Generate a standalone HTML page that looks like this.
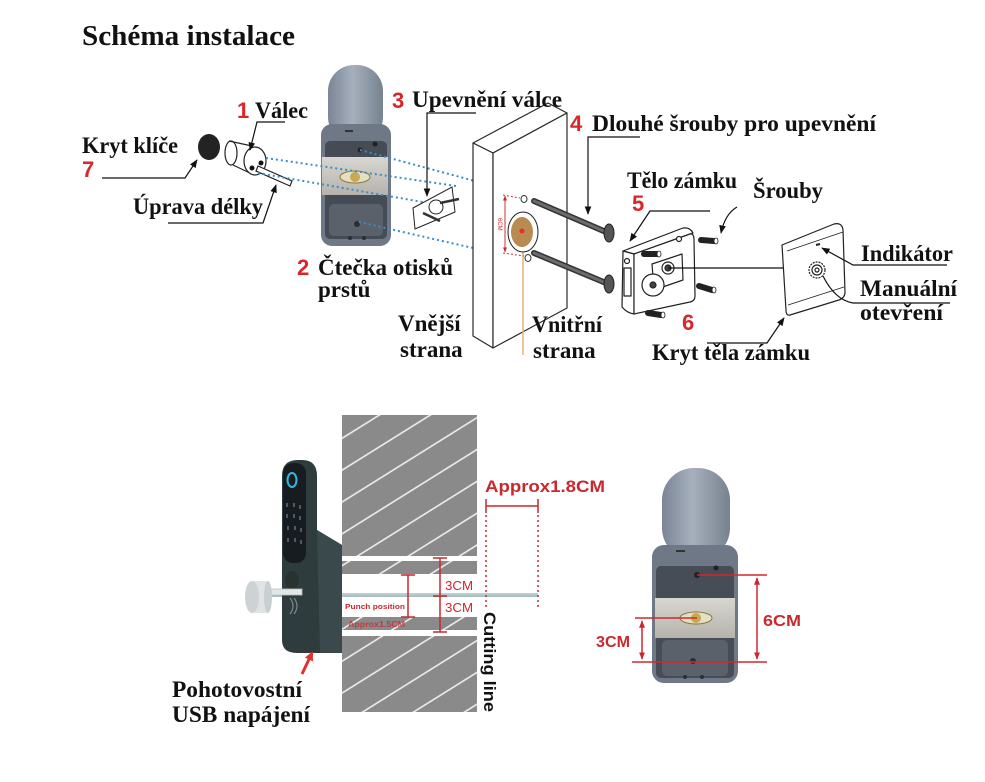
<!DOCTYPE html>
<html><head><meta charset="utf-8"><style>
html,body{margin:0;padding:0;background:#fff;}
svg{display:block}
.l{font-family:"Liberation Serif",serif;font-weight:bold;font-size:23px;fill:#111}
.n{font-family:"Liberation Sans",sans-serif;font-weight:bold;font-size:22px;fill:#d9262c}
.r{font-family:"Liberation Sans",sans-serif;fill:#c9282d}
</style></head><body>
<svg width="985" height="782" viewBox="0 0 985 782" xmlns="http://www.w3.org/2000/svg">
<defs>
<marker id="ar" viewBox="0 0 10 10" refX="9" refY="5" markerWidth="7" markerHeight="7" orient="auto"><path d="M0,1 L10,5 L0,9 z" fill="#111"/></marker>
<marker id="rr" viewBox="0 0 10 10" refX="9" refY="5" markerWidth="5" markerHeight="5" orient="auto-start-reverse"><path d="M0,1 L10,5 L0,9 z" fill="#c9282d"/></marker>
<marker id="ra" viewBox="0 0 10 10" refX="8" refY="5" markerWidth="3" markerHeight="3" orient="auto"><path d="M0,0 L10,5 L0,10 z" fill="#e03030"/></marker>
<pattern id="hatch" width="40" height="27" patternUnits="userSpaceOnUse" patternTransform="rotate(-32)"><rect width="40" height="27" fill="#8a8a8a"/><line x1="0" y1="13" x2="40" y2="13" stroke="#f4f4f4" stroke-width="1.6"/></pattern>
<linearGradient id="cap" x1="0" y1="0" x2="1" y2="0"><stop offset="0" stop-color="#7a8596"/><stop offset="0.45" stop-color="#a6b0bd"/><stop offset="1" stop-color="#77828f"/></linearGradient>
<linearGradient id="plate" x1="0" y1="0" x2="0" y2="1"><stop offset="0" stop-color="#d8d6d0"/><stop offset="1" stop-color="#b5b3ac"/></linearGradient>
</defs>

<rect width="985" height="782" fill="#fff"/>

<!-- Title -->
<text x="82" y="45" class="l" style="font-size:28px" textLength="213" lengthAdjust="spacingAndGlyphs">Schéma instalace</text>

<!-- key cap -->
<ellipse cx="209" cy="147" rx="11" ry="13" fill="#232323"/>
<!-- cylinder -->
<g stroke="#222" stroke-width="1.2" fill="#fff">
<path d="M229,142 L252,147 L258,175 L232,165 Z" stroke="none"/>
<ellipse cx="231" cy="153" rx="6" ry="12"/>
<line x1="229" y1="141" x2="252" y2="146"/>
<line x1="233" y1="165" x2="254" y2="175"/>
<ellipse cx="255" cy="161" rx="11" ry="14"/>
<path d="M258,166 L292,181 L290,186 L256,171 Z"/>
</g>
<circle cx="252" cy="168" r="2.5" fill="#111"/>
<circle cx="261" cy="163" r="2.5" fill="#111"/>

<!-- top reader device -->
<rect x="328" y="65" width="55" height="78" rx="26" fill="url(#cap)"/>
<rect x="321" y="124" width="70" height="122" rx="11" fill="#6e7887"/>
<rect x="325" y="141" width="62" height="98" rx="5" fill="#464c55"/>
<rect x="329" y="204" width="54" height="32" rx="5" fill="#5a616b"/>
<rect x="322" y="157" width="66" height="38" fill="url(#plate)"/>
<ellipse cx="355" cy="177" rx="15" ry="6" fill="#e6dfc4" stroke="#8a7a40" stroke-width="1"/>
<circle cx="355" cy="177" r="5" fill="#c8a850"/>
<circle cx="360" cy="150" r="2.5" fill="#222"/><circle cx="375" cy="144" r="2.5" fill="#222"/>
<circle cx="357" cy="224" r="3" fill="#2a2e33"/>
<circle cx="350" cy="238" r="2" fill="#2a2e33"/><circle cx="364" cy="238" r="2" fill="#2a2e33"/>
<rect x="345" y="130" width="8" height="2" fill="#333"/>

<!-- blue dotted lines -->
<g stroke="#3b8ec6" stroke-width="2" stroke-dasharray="2 3" fill="none">
<line x1="266" y1="158" x2="456" y2="186"/>
<line x1="258" y1="173" x2="428" y2="203"/>
<line x1="360" y1="150" x2="523" y2="194"/>
<line x1="359" y1="222" x2="530" y2="261"/>
</g>

<!-- mount plate 3 -->
<g stroke="#222" stroke-width="1" fill="#fff">
<polygon points="413,208 452,187 455,212 415,229"/>
<circle cx="436" cy="207" r="7"/>
<line x1="423" y1="213" x2="440" y2="221" stroke-width="2.5" stroke="#333"/>
<line x1="440" y1="203" x2="459" y2="199" stroke-width="2.5" stroke="#333"/>
</g>

<!-- slab -->
<g stroke="#2a2a2a" stroke-width="1.2" fill="#fff" stroke-linejoin="round">
<polygon points="473,143 548,103 567,113 493,153"/>
<polygon points="473,143 493,153 493,348 473,336"/>
<polygon points="493,153 567,113 567,308 493,348"/>
</g>
<line x1="523" y1="236" x2="523" y2="355" stroke="#e6b07a" stroke-width="1.5"/>
<ellipse cx="523" cy="232" rx="15" ry="20" fill="#fff" stroke="#222" stroke-width="1"/>
<ellipse cx="522" cy="232" rx="11" ry="15" fill="#b98b50"/>
<circle cx="522" cy="231" r="2.5" fill="#e43030"/>
<ellipse cx="524" cy="199" rx="3" ry="3.5" fill="#fff" stroke="#333"/>
<ellipse cx="528" cy="258" rx="3" ry="3.5" fill="#fff" stroke="#333"/>
<g stroke="#d03030" stroke-width="1">
<line x1="505" y1="196" x2="505" y2="252" marker-start="url(#rr)" marker-end="url(#rr)"/>
<line x1="503" y1="195" x2="520" y2="198" stroke-dasharray="2 2"/>
<line x1="503" y1="253" x2="524" y2="256" stroke-dasharray="2 2"/>
</g>
<text class="r" font-size="6" transform="translate(498,218) rotate(90)">6CM</text>

<!-- long screws -->
<g stroke-linecap="round">
<line x1="534" y1="201" x2="606" y2="232" stroke="#333" stroke-width="6"/>
<line x1="534" y1="201" x2="606" y2="232" stroke="#6c6c6c" stroke-width="3"/>
<line x1="534" y1="253" x2="606" y2="283" stroke="#333" stroke-width="6"/>
<line x1="534" y1="253" x2="606" y2="283" stroke="#6c6c6c" stroke-width="3"/>
</g>
<ellipse cx="609" cy="233" rx="5" ry="9" fill="#555" stroke="#222"/>
<ellipse cx="609" cy="284" rx="5" ry="9" fill="#555" stroke="#222"/>

<!-- lock body 5 -->
<g stroke="#222" stroke-width="1.2" fill="#fff" stroke-linejoin="round">
<path d="M623,251 L683,228 Q690,227 693,233 L634,254 Z"/>
<path d="M623,251 L634,254 L634,314 Q627,313 622,307 Z"/>
<path d="M634,254 L690,234 Q694,233 694,240 L695,296 Q695,301 690,302 L634,314 Z"/>
<rect x="624" y="268" width="7" height="28" fill="#fff"/>
<circle cx="627" cy="261" r="2.5"/>
<circle cx="679" cy="239" r="2.5"/>
<polygon points="652,264 682,254 683,280 654,290"/>
<circle cx="653" cy="285" r="11"/>
<circle cx="653" cy="285" r="3" fill="#444"/>
<circle cx="668" cy="268" r="6"/>
<circle cx="668" cy="268" r="3" fill="#444"/>
</g>
<!-- small screws -->
<g stroke-linecap="round">
<line x1="701" y1="240" x2="714" y2="241" stroke="#222" stroke-width="6"/>
<line x1="644" y1="254" x2="657" y2="254" stroke="#222" stroke-width="6"/>
<line x1="699" y1="286" x2="712" y2="290" stroke="#222" stroke-width="6"/>
<line x1="648" y1="313" x2="661" y2="315" stroke="#222" stroke-width="6"/>
</g>
<g fill="#fff" stroke="#222" stroke-width="0.8">
<ellipse cx="716" cy="241" rx="2" ry="3"/><ellipse cx="659" cy="254" rx="2" ry="3"/>
<ellipse cx="714" cy="290" rx="2" ry="3"/><ellipse cx="663" cy="315" rx="2" ry="3"/>
</g>
<line x1="668" y1="268" x2="817" y2="268" stroke="#111" stroke-width="1.2"/>

<!-- cover -->
<g stroke="#222" stroke-width="1.2" fill="#fff" stroke-linejoin="round">
<path d="M782,245 L834,224 Q842,222 843,230 L845,292 Q845,298 839,300 L790,315 Q786,316 786,310 Z"/>
<line x1="787" y1="251" x2="843" y2="232" stroke-width="0.9"/>
<line x1="788" y1="305" x2="844" y2="287" stroke-width="0.9"/>
<circle cx="817" cy="270" r="8" stroke-dasharray="2 1"/>
<circle cx="817" cy="270" r="5"/>
<circle cx="817" cy="270" r="2"/>
</g>
<line x1="816" y1="245" x2="820" y2="244" stroke="#222" stroke-width="2"/>

<!-- leaders -->
<g stroke="#111" stroke-width="1.2" fill="none">
<polyline points="102,178 185,178 197,160" marker-end="url(#ar)"/>
<polyline points="285,122 257,122 250,150" marker-end="url(#ar)"/>
<polyline points="168,223 263,223 276,185" marker-end="url(#ar)"/>
<polyline points="476,113 427,113 427,196" marker-end="url(#ar)"/>
<polyline points="640,137 588,137 588,214" marker-end="url(#ar)"/>
<polyline points="710,211 650,211 630,241" marker-end="url(#ar)"/>
<path d="M737,207 Q725,214 721,233" marker-end="url(#ar)"/>
<polyline points="947,265 853,265 822,248" marker-end="url(#ar)"/>
<path d="M950,303 L853,303 Q835,300 823,276"/>
<polyline points="707,343 767,343 784,318" marker-end="url(#ar)"/>
</g>

<!-- labels top -->
<text x="237" y="118" class="n">1</text>
<text x="255" y="118" class="l" textLength="53" lengthAdjust="spacingAndGlyphs">Válec</text>
<text x="82" y="153" class="l" textLength="96" lengthAdjust="spacingAndGlyphs">Kryt klíče</text>
<text x="82" y="177" class="n">7</text>
<text x="133" y="214" class="l" textLength="130" lengthAdjust="spacingAndGlyphs">Úprava délky</text>
<text x="392" y="108" class="n">3</text>
<text x="412" y="107" class="l" textLength="150" lengthAdjust="spacingAndGlyphs">Upevnění válce</text>
<text x="570" y="131" class="n">4</text>
<text x="592" y="131" class="l" textLength="284" lengthAdjust="spacingAndGlyphs">Dlouhé šrouby pro upevnění</text>
<text x="297" y="275" class="n">2</text>
<text x="318" y="275" class="l" textLength="135" lengthAdjust="spacingAndGlyphs">Čtečka otisků</text>
<text x="318" y="297" class="l">prstů</text>
<text x="398" y="331" class="l">Vnější</text>
<text x="400" y="357" class="l">strana</text>
<text x="532" y="332" class="l" textLength="70" lengthAdjust="spacingAndGlyphs">Vnitřní</text>
<text x="533" y="358" class="l">strana</text>
<text x="627" y="188" class="l" textLength="110" lengthAdjust="spacingAndGlyphs">Tělo zámku</text>
<text x="632" y="211" class="n">5</text>
<text x="753" y="198" class="l" textLength="70" lengthAdjust="spacingAndGlyphs">Šrouby</text>
<text x="861" y="261" class="l" textLength="92" lengthAdjust="spacingAndGlyphs">Indikátor</text>
<text x="860" y="296" class="l" textLength="97" lengthAdjust="spacingAndGlyphs">Manuální</text>
<text x="860" y="320" class="l" textLength="83" lengthAdjust="spacingAndGlyphs">otevření</text>
<text x="682" y="330" class="n">6</text>
<text x="652" y="360" class="l" textLength="158" lengthAdjust="spacingAndGlyphs">Kryt těla zámku</text>

<!-- ===== bottom ===== -->
<!-- hatched wall -->
<rect x="342" y="415" width="135" height="297" fill="url(#hatch)"/>
<rect x="342" y="556" width="135" height="5" fill="#fff"/>
<rect x="342" y="574" width="135" height="43" fill="#fff"/>
<rect x="342" y="630" width="135" height="6" fill="#fff"/>

<!-- rod -->
<line x1="262" y1="595" x2="538" y2="595" stroke="#a9c1c5" stroke-width="4"/>
<line x1="262" y1="594" x2="538" y2="594" stroke="#cfdcde" stroke-width="1"/>

<!-- dark keypad device -->
<path d="M282,476 Q282,460 298,460 L302,460 Q317,460 317,476 L317,530 L342,545 L342,653 L297,653 Q282,653 282,640 Z" fill="#2f3c3e"/>
<path d="M317,530 L342,545 L342,653 L320,653 Z" fill="#3a4a4c"/>
<rect x="283" y="463" width="23" height="100" rx="10" fill="#161c1f"/>
<ellipse cx="292" cy="480" rx="4.5" ry="7" fill="none" stroke="#36b6dc" stroke-width="2"/>
<g fill="#4a5a66">
<rect x="286" y="503" width="2" height="4"/><rect x="293" y="503" width="2" height="4"/><rect x="299" y="505" width="2" height="4"/>
<rect x="286" y="514" width="2" height="4"/><rect x="293" y="514" width="2" height="4"/><rect x="299" y="516" width="2" height="4"/>
<rect x="287" y="526" width="2" height="4"/><rect x="294" y="526" width="2" height="4"/><rect x="300" y="528" width="2" height="4"/>
<rect x="287" y="538" width="2" height="4"/><rect x="294" y="538" width="2" height="4"/><rect x="300" y="540" width="2" height="4"/>
</g>
<ellipse cx="292" cy="580" rx="7" ry="9" fill="#28332f"/>
<rect x="266" y="589" width="36" height="6" fill="#e2e6e6" stroke="#b8bfc0" stroke-width="0.8"/>
<path d="M290,598 Q296,606 290,614" stroke="#7a8a8c" fill="none" stroke-width="1.2"/>
<path d="M294,598 Q300,606 294,614" stroke="#7a8a8c" fill="none" stroke-width="1.2"/>
<rect x="252" y="581" width="16" height="32" fill="#dfe3e3"/>
<ellipse cx="268" cy="597" rx="4" ry="16" fill="#c9d0d1"/>
<ellipse cx="252" cy="597" rx="7" ry="16" fill="#cdd3d4"/>

<!-- red arrow -->
<line x1="302" y1="674" x2="312" y2="653" stroke="#e03030" stroke-width="3" marker-end="url(#ra)"/>

<text x="172" y="697" class="l" textLength="130" lengthAdjust="spacingAndGlyphs">Pohotovostní</text>
<text x="172" y="722" class="l" textLength="138" lengthAdjust="spacingAndGlyphs">USB napájení</text>

<!-- red dims middle -->
<g stroke="#c9282d" stroke-width="1.5">
<line x1="440" y1="558" x2="440" y2="632"/>
<line x1="433" y1="558" x2="447" y2="558"/>
<line x1="433" y1="596" x2="447" y2="596"/>
<line x1="433" y1="632" x2="447" y2="632"/>
<line x1="408" y1="575" x2="408" y2="617"/>
<line x1="401" y1="575" x2="415" y2="575"/>
<line x1="401" y1="617" x2="415" y2="617"/>
<line x1="486" y1="506" x2="538" y2="506"/>
<line x1="486" y1="499" x2="486" y2="513"/>
<line x1="538" y1="499" x2="538" y2="513"/>
<line x1="486" y1="515" x2="486" y2="607" stroke-dasharray="2 3"/>
<line x1="538" y1="515" x2="538" y2="607" stroke-dasharray="2 3"/>
</g>
<text x="445" y="590" class="r" font-size="13" textLength="28" lengthAdjust="spacingAndGlyphs">3CM</text>
<text x="445" y="612" class="r" font-size="13" textLength="28" lengthAdjust="spacingAndGlyphs">3CM</text>
<text x="345" y="609" class="r" font-size="7.5" font-weight="bold" textLength="60" lengthAdjust="spacingAndGlyphs">Punch position</text>
<text x="348" y="627" class="r" font-size="8" font-weight="bold" textLength="57" lengthAdjust="spacingAndGlyphs" fill-opacity="0.8">Approx1.5CM</text>
<text x="485" y="492" class="r" font-size="17" font-weight="bold" textLength="120" lengthAdjust="spacingAndGlyphs">Approx1.8CM</text>
<text transform="translate(484,612) rotate(90)" font-family="Liberation Sans, sans-serif" font-weight="bold" font-size="17" fill="#111" textLength="100" lengthAdjust="spacingAndGlyphs">Cutting line</text>

<!-- bottom-right device -->
<rect x="662" y="468" width="68" height="92" rx="32" fill="url(#cap)"/>
<rect x="652" y="545" width="86" height="138" rx="12" fill="#6e7887"/>
<rect x="656" y="566" width="78" height="112" rx="5" fill="#474d56"/>
<rect x="662" y="640" width="66" height="36" rx="5" fill="#5a616b"/>
<rect x="655" y="598" width="80" height="40" fill="url(#plate)"/>
<ellipse cx="696" cy="618" rx="16" ry="6" fill="#e6dfc4" stroke="#8a7a40" stroke-width="1"/>
<circle cx="696" cy="618" r="5" fill="#c8a850"/>
<circle cx="697" cy="575" r="3" fill="#222"/><circle cx="716" cy="568" r="2.5" fill="#222"/>
<circle cx="693" cy="661" r="3" fill="#2a2e33"/>
<circle cx="685" cy="677" r="2" fill="#2a2e33"/><circle cx="702" cy="677" r="2" fill="#2a2e33"/>
<rect x="676" y="550" width="9" height="2" fill="#333"/>
<g stroke="#d0282e" stroke-width="1.5">
<line x1="697" y1="575" x2="767" y2="575"/>
<line x1="632" y1="662" x2="767" y2="662"/>
<line x1="635" y1="618" x2="697" y2="618"/>
<line x1="757" y1="578" x2="757" y2="659" marker-start="url(#rr)" marker-end="url(#rr)"/>
<line x1="642" y1="621" x2="642" y2="659" marker-start="url(#rr)" marker-end="url(#rr)"/>
</g>
<text x="763" y="626" class="r" font-size="16" font-weight="bold" textLength="38" lengthAdjust="spacingAndGlyphs">6CM</text>
<text x="596" y="647" class="r" font-size="16" font-weight="bold" textLength="34" lengthAdjust="spacingAndGlyphs">3CM</text>
</svg>
</body></html>
